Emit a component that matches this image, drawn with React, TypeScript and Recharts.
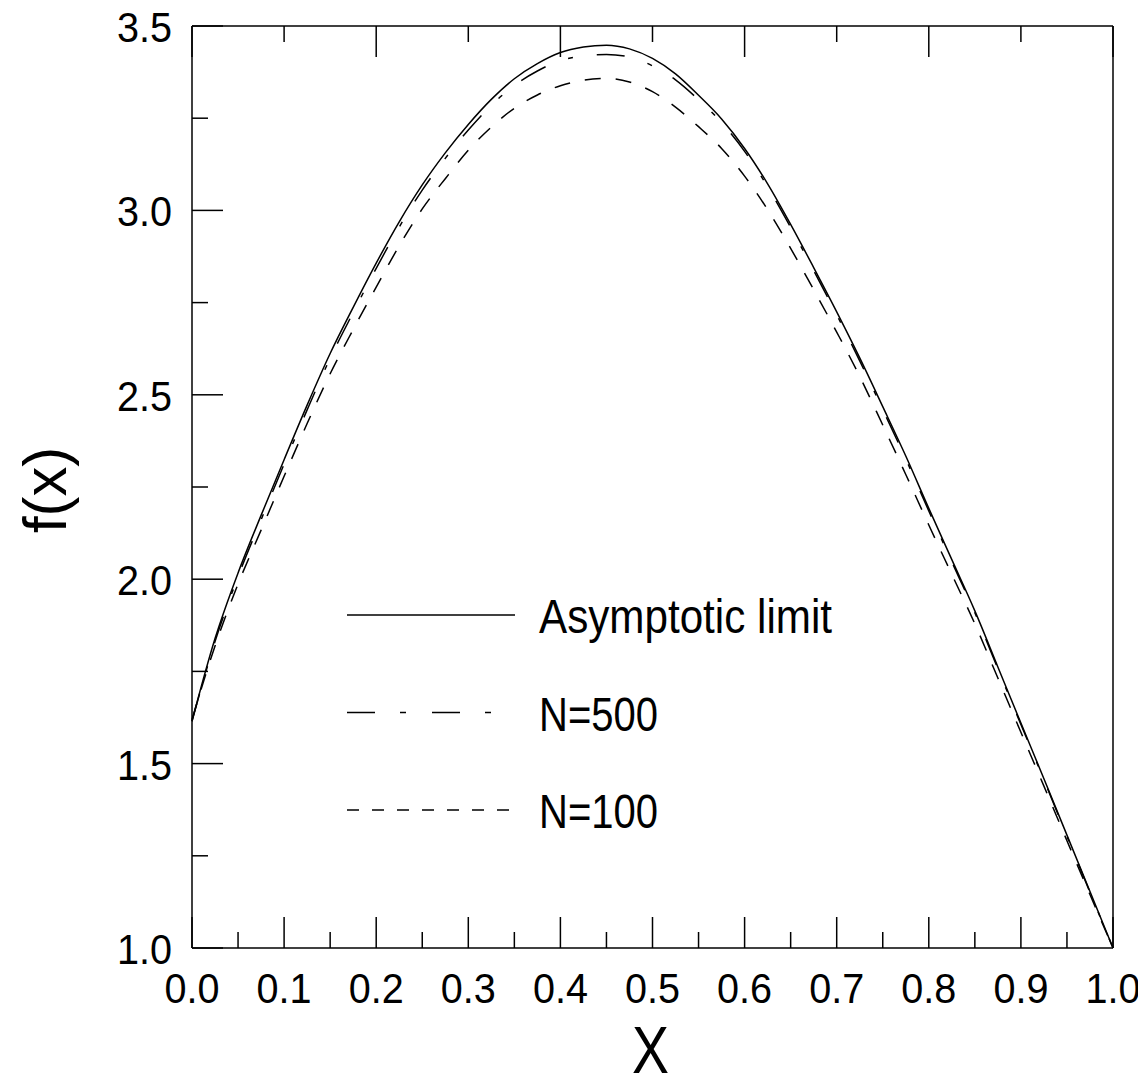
import React from 'react';
import { LineChart, Line, XAxis, YAxis, Legend } from 'recharts';

const xValues = [
  0, 0.025, 0.05, 0.075, 0.1, 0.125, 0.15, 0.175, 0.2, 0.225, 0.25, 0.275, 0.3, 0.325, 0.35, 0.375, 0.4,
  0.425, 0.45, 0.475, 0.5, 0.525, 0.55, 0.575, 0.6, 0.625, 0.65, 0.675, 0.7, 0.725, 0.75, 0.775, 0.8,
  0.825, 0.85, 0.875, 0.9, 0.925, 0.95, 0.975, 1.0,
];

const asymptotic = [
  1.615, 1.839, 2.017, 2.173, 2.324, 2.472, 2.612, 2.737, 2.857, 2.969, 3.069, 3.156, 3.233, 3.301, 3.357,
  3.398, 3.428, 3.443, 3.448, 3.438, 3.412, 3.370, 3.312, 3.248, 3.168, 3.072, 2.962, 2.845, 2.725, 2.600,
  2.468, 2.334, 2.192, 2.053, 1.914, 1.762, 1.610, 1.459, 1.306, 1.153, 1.000,
];

const n500 = [
  1.615, 1.831, 2.007, 2.161, 2.312, 2.459, 2.599, 2.723, 2.843, 2.955, 3.055, 3.141, 3.218, 3.285, 3.339,
  3.378, 3.406, 3.419, 3.423, 3.416, 3.392, 3.354, 3.300, 3.238, 3.160, 3.064, 2.954, 2.837, 2.717, 2.592,
  2.460, 2.326, 2.185, 2.047, 1.909, 1.757, 1.606, 1.456, 1.303, 1.151, 1.000,
];

const n100 = [
  1.620, 1.819, 1.987, 2.133, 2.279, 2.422, 2.557, 2.677, 2.792, 2.904, 3.004, 3.086, 3.163, 3.226, 3.277,
  3.313, 3.338, 3.353, 3.358, 3.348, 3.322, 3.280, 3.227, 3.168, 3.093, 3.002, 2.897, 2.785, 2.670, 2.550,
  2.418, 2.284, 2.147, 2.013, 1.879, 1.732, 1.585, 1.439, 1.291, 1.145, 1.000,
];

const xBottomTicks = [
  0, 0.05, 0.1, 0.15, 0.2, 0.25, 0.3, 0.35, 0.4, 0.45, 0.5, 0.55, 0.6, 0.65, 0.7, 0.75, 0.8, 0.85, 0.9, 0.95, 1.0,
];
const xTopTicks = [0, 0.1, 0.2, 0.3, 0.4, 0.5, 0.6, 0.7, 0.8, 0.9, 1.0];
const yTicks = [1.0, 1.25, 1.5, 1.75, 2.0, 2.25, 2.5, 2.75, 3.0, 3.25, 3.5];

const seriesNames = ['Asymptotic limit', 'N=500', 'N=100'];
const seriesKeys = ['asym', 'n500', 'n100'];
const plotDashes = ['', '28 24 5 24', '16 15'];
const legendDashes = ['', '28 25 6 26', '12 13'];
const legendTextWidths = [293, 119, 119];

const data = xValues.map((x, i) => ({ x, asym: asymptotic[i], n500: n500[i], n100: n100[i] }));

const FONT = "'Liberation Sans', Arial, sans-serif";
const MAJOR = 31;
const MINOR = 16;

const isMult = (v: number, step: number) => Math.abs(v / step - Math.round(v / step)) < 1e-6;

const BottomTick = (props: any) => {
  const { x, y, payload } = props;
  const v = payload.value as number;
  const major = isMult(v, 0.1);
  return (
    <g>
      <line x1={x} x2={x} y1={y} y2={y - (major ? MAJOR : MINOR)} stroke="#000" strokeWidth={1.5} />
      {major && (
        <text
          x={x}
          y={y + 55}
          textAnchor="middle"
          fontFamily={FONT}
          fontSize={42}
          textLength={55}
          lengthAdjust="spacingAndGlyphs"
          fill="#000"
        >
          {v.toFixed(1)}
        </text>
      )}
    </g>
  );
};

const TopTick = (props: any) => {
  const { x, y, payload } = props;
  const v = payload.value as number;
  const major = isMult(v, 0.2);
  return <line x1={x} x2={x} y1={y} y2={y + (major ? MAJOR : MINOR)} stroke="#000" strokeWidth={1.5} />;
};

const LeftTick = (props: any) => {
  const { x, y, payload } = props;
  const v = payload.value as number;
  const major = isMult(v, 0.5);
  return (
    <g>
      <line x1={x} x2={x + (major ? MAJOR : MINOR)} y1={y} y2={y} stroke="#000" strokeWidth={1.5} />
      {major && (
        <text
          x={x - 20}
          y={y + 16}
          textAnchor="end"
          fontFamily={FONT}
          fontSize={42}
          textLength={55}
          lengthAdjust="spacingAndGlyphs"
          fill="#000"
        >
          {v.toFixed(1)}
        </text>
      )}
    </g>
  );
};

const RightTick = (props: any) => {
  const { x, y, payload } = props;
  const v = payload.value as number;
  const major = isMult(v, 0.5);
  return <line x1={x} x2={x - (major ? MAJOR : MINOR)} y1={y} y2={y} stroke="#000" strokeWidth={1.5} />;
};

const renderLegend = () => (
  <svg width={600} height={260} style={{ display: 'block' }}>
    {seriesNames.map((name, i) => (
      <g key={name}>
        <line
          x1={0}
          x2={168}
          y1={35 + i * 97.5}
          y2={35 + i * 97.5}
          stroke="#000"
          strokeWidth={1.5}
          strokeDasharray={legendDashes[i] || undefined}
        />
        <text
          x={192}
          y={53 + i * 97.5}
          fontFamily={FONT}
          fontSize={48}
          textLength={legendTextWidths[i]}
          lengthAdjust="spacingAndGlyphs"
          fill="#000"
        >
          {name}
        </text>
      </g>
    ))}
  </svg>
);

const YLabel = (props: any) => {
  const vb = props.viewBox || { x: 183, y: 26, width: 1, height: 922 };
  const cx = vb.x + vb.width - 126;
  const cy = vb.y + vb.height / 2 + 3;
  return (
    <text
      x={cx}
      y={cy}
      transform={`rotate(-90 ${cx} ${cy})`}
      textAnchor="middle"
      fontFamily={FONT}
      fontSize={62}
      textLength={86}
      lengthAdjust="spacingAndGlyphs"
      fill="#000"
    >
      f(x)
    </text>
  );
};

const XLabel = (props: any) => {
  const vb = props.viewBox || { x: 184, y: 948, width: 921, height: 1 };
  return (
    <text
      x={vb.x + vb.width / 2 - 2}
      y={vb.y + 125}
      textAnchor="middle"
      fontFamily={FONT}
      fontSize={66}
      textLength={37}
      lengthAdjust="spacingAndGlyphs"
      fill="#000"
    >
      X
    </text>
  );
};

export default function App() {
  return (
    <div style={{ marginTop: -8 }}>
      <LineChart
        width={1138}
        height={1086}
        data={data}
        margin={{ top: 25, right: 32, bottom: 137, left: 183 }}
        style={{ overflow: 'visible' }}
      >
        <XAxis
          xAxisId="b"
          dataKey="x"
          type="number"
          domain={[0, 1]}
          ticks={xBottomTicks}
          interval={0}
          height={1}
          tickSize={0}
          tickMargin={0}
          tick={<BottomTick />}
          tickLine={false}
          axisLine={{ stroke: '#000', strokeWidth: 1.5 }}
          label={<XLabel />}
        />
        <XAxis
          xAxisId="t"
          orientation="top"
          dataKey="x"
          type="number"
          domain={[0, 1]}
          ticks={xTopTicks}
          interval={0}
          height={1}
          tickSize={0}
          tickMargin={0}
          tick={<TopTick />}
          tickLine={false}
          axisLine={{ stroke: '#000', strokeWidth: 1.5 }}
        />
        <YAxis
          yAxisId="l"
          type="number"
          domain={[1, 3.5]}
          ticks={yTicks}
          interval={0}
          width={1}
          tickSize={0}
          tickMargin={0}
          tick={<LeftTick />}
          tickLine={false}
          axisLine={{ stroke: '#000', strokeWidth: 1.5 }}
          label={<YLabel />}
        />
        <YAxis
          yAxisId="r"
          orientation="right"
          type="number"
          domain={[1, 3.5]}
          ticks={yTicks}
          interval={0}
          width={1}
          tickSize={0}
          tickMargin={0}
          tick={<RightTick />}
          tickLine={false}
          axisLine={{ stroke: '#000', strokeWidth: 1.5 }}
        />
        <Legend
          layout="vertical"
          align="center"
          verticalAlign="middle"
          content={renderLegend}
          wrapperStyle={{ position: 'absolute', left: 339, top: 580, width: 600, height: 260 }}
        />
        {seriesKeys.map((k, i) => (
          <Line
            key={k}
            xAxisId="b"
            yAxisId="l"
            dataKey={k}
            name={seriesNames[i]}
            type="monotone"
            stroke="#000"
            strokeWidth={1.5}
            strokeDasharray={plotDashes[i] || undefined}
            dot={false}
            activeDot={false}
            isAnimationActive={false}
          />
        ))}
      </LineChart>
    </div>
  );
}
